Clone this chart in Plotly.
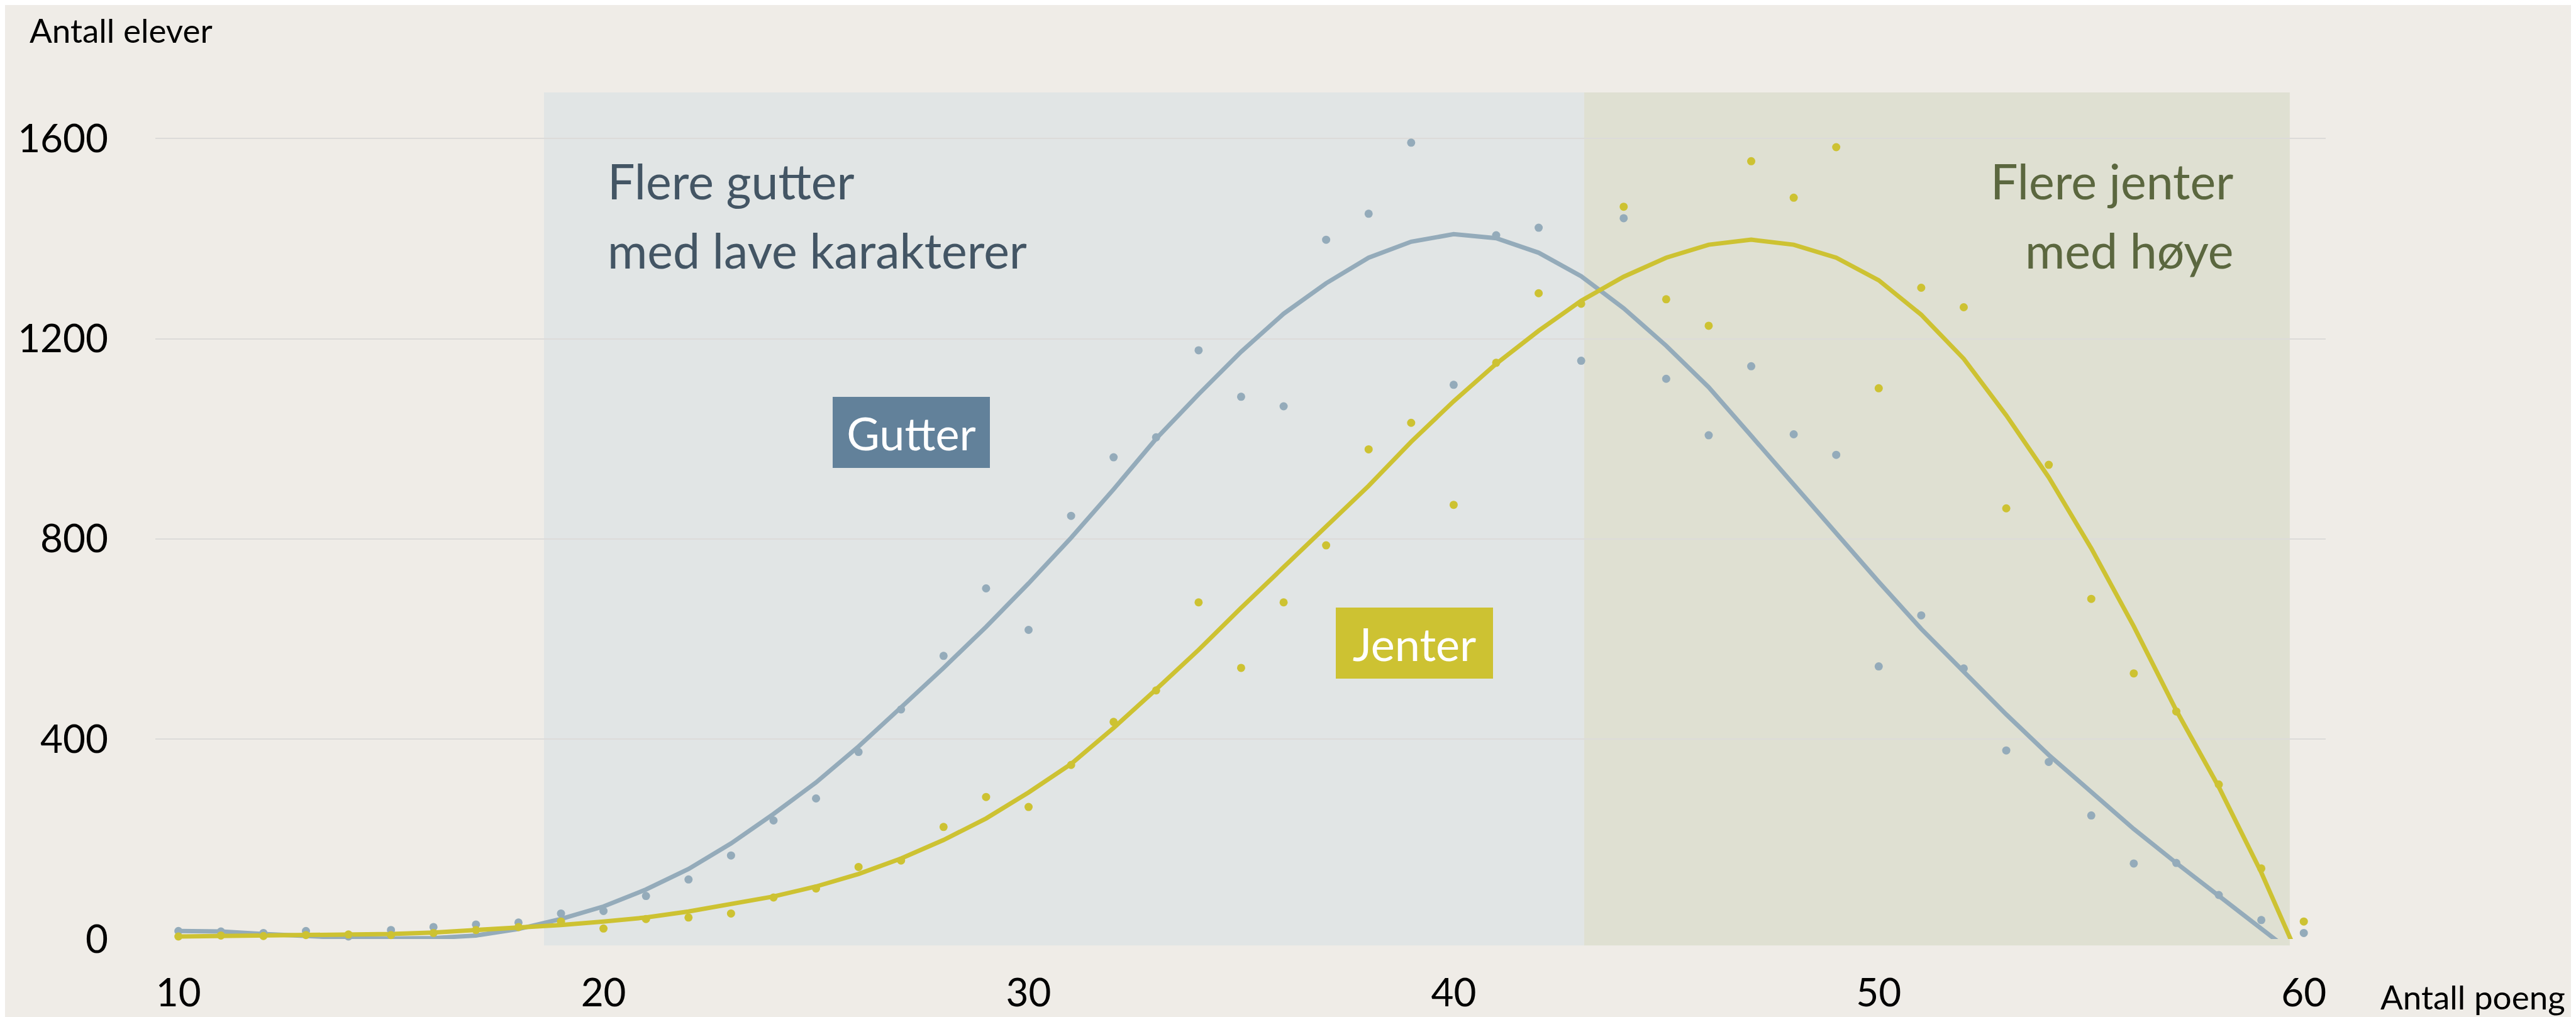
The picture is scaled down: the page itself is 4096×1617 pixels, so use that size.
import plotly.graph_objects as go

# ---------------- data ----------------
poeng = list(range(10, 61))

gutter_antall = [16, 15, 12, 16, 5, 18, 24, 29, 33, 51,
                 56, 86, 119, 167, 237, 281, 374, 459, 566, 701,
                 618, 846, 963, 1003, 1177, 1084, 1065, 1398, 1450, 1592,
                 1108, 1407, 1422, 1156, 1441, 1120, 1007, 1145, 1009, 968,
                 545, 647, 541, 377, 354, 247, 151, 152, 88, 38,
                 12]

jenter_antall = [5, 7, 6, 8, 9, 8, 12, 18, 24, 35,
                 21, 40, 43, 51, 83, 101, 144, 157, 224, 284,
                 264, 348, 434, 497, 673, 542, 673, 787, 979, 1032,
                 868, 1152, 1291, 1270, 1464, 1279, 1226, 1555, 1482, 1583,
                 1101, 1302, 1263, 861, 948, 680, 531, 455, 309, 141,
                 35]

gutter_trend = [16, 15, 10, 5, 2, 1, 2, 7, 20, 40,
                65, 99, 140, 191, 250, 313, 385, 463, 542, 624,
                711, 802, 899, 1000, 1089, 1174, 1250, 1311, 1362, 1394,
                1409, 1401, 1372, 1325, 1261, 1186, 1103, 1006, 908, 810,
                714, 620, 535, 449, 368, 293, 220, 152, 86, 20,
                -45]

jenter_trend = [5, 6, 6, 7, 8, 10, 13, 18, 22, 28,
                35, 43, 55, 70, 85, 105, 130, 161, 198, 241,
                293, 350, 422, 499, 578, 662, 743, 827, 906, 994,
                1075, 1150, 1216, 1276, 1324, 1362, 1388, 1398, 1388, 1362,
                1317, 1248, 1160, 1047, 923, 781, 625, 457, 304, 133,
                -60]

y_ticks = [0, 400, 800, 1200, 1600]
x_ticks = [10, 20, 30, 40, 50, 60]

omrade_gutter = (18.6, 43.07)
omrade_jenter = (43.07, 59.67)

# ---------------- style ----------------
W, H = 4096, 1617
L, R, T, B = 239.4, 3690.3, 138.7, 1485.2
XR = [9.457, 60.515]
YR = [0, 1692.4]

BG = "#EFECE7"
C_GUT = "#94ABBA"
C_JEN = "#CDC232"
FONT = "Lato, 'Open Sans', sans-serif"


def xpaper(px):
    return (px - L) / (R - L)


def ypaper(py):
    return (B - py) / (B - T)


fig = go.Figure()

fig.add_trace(go.Scatter(x=poeng, y=gutter_trend, mode="lines",
                         line=dict(color=C_GUT, width=7), hoverinfo="skip",
                         showlegend=False))
fig.add_trace(go.Scatter(x=poeng, y=jenter_trend, mode="lines",
                         line=dict(color=C_JEN, width=7), hoverinfo="skip",
                         showlegend=False))
fig.add_trace(go.Scatter(x=poeng, y=gutter_antall, mode="markers",
                         marker=dict(color=C_GUT, size=13), cliponaxis=False,
                         name="Gutter", showlegend=False))
fig.add_trace(go.Scatter(x=poeng, y=jenter_antall, mode="markers",
                         marker=dict(color=C_JEN, size=13), cliponaxis=False,
                         name="Jenter", showlegend=False))

# shaded regions
fig.add_shape(type="rect", xref="x", yref="paper",
              x0=omrade_gutter[0], x1=omrade_gutter[1], y0=-0.0077, y1=1,
              fillcolor="#E1E5E5", line=dict(width=0), layer="below")
fig.add_shape(type="rect", xref="x", yref="paper",
              x0=omrade_jenter[0], x1=omrade_jenter[1], y0=-0.0077, y1=1,
              fillcolor="#DFE0D2", line=dict(width=0), layer="below")

ann = []
# axis titles
ann.append(dict(text="Antall elever", xref="paper", yref="paper",
                x=xpaper(37), y=ypaper(39), xanchor="left", yanchor="middle",
                showarrow=False, font=dict(family=FONT, size=53, color="#000000")))
ann.append(dict(text="Antall poeng", xref="paper", yref="paper",
                x=xpaper(3775), y=ypaper(1577), xanchor="left", yanchor="middle",
                showarrow=False, font=dict(family=FONT, size=53, color="#000000")))

# region texts
C_TG = "#435564"
C_TJ = "#5B673F"
for txt, py in [("Flere gutter", 279), ("med lave karakterer", 389)]:
    ann.append(dict(text=txt, xref="paper", yref="paper",
                    x=xpaper(956), y=ypaper(py), xanchor="left", yanchor="middle",
                    showarrow=False, font=dict(family=FONT, size=77, color=C_TG)))
for txt, py in [("Flere jenter", 279), ("med høye", 389)]:
    ann.append(dict(text=txt, xref="paper", yref="paper",
                    x=xpaper(3545), y=ypaper(py), xanchor="right", yanchor="middle",
                    showarrow=False, font=dict(family=FONT, size=77, color=C_TJ)))

# label boxes
ann.append(dict(text="Gutter", xref="x", yref="y", x=27.24, y=1013,
                xanchor="center", yanchor="middle", showarrow=False,
                width=250, height=113, bgcolor="#62819A", borderpad=0,
                borderwidth=0, align="center",
                font=dict(family=FONT, size=72, color="#FFFFFF")))
ann.append(dict(text="Jenter", xref="x", yref="y", x=39.08, y=591,
                xanchor="center", yanchor="middle", showarrow=False,
                width=250, height=113, bgcolor=C_JEN, borderpad=0,
                borderwidth=0, align="center",
                font=dict(family=FONT, size=72, color="#FFFFFF")))

fig.update_layout(
    width=W, height=H,
    paper_bgcolor=BG, plot_bgcolor=BG,
    margin=dict(l=L, r=W - R, t=T, b=H - B, pad=0, autoexpand=False),
    annotations=ann,
    showlegend=False,
    font=dict(family=FONT, color="#000000"),
)
fig.update_xaxes(range=XR, tickvals=x_ticks, showgrid=False, zeroline=False,
                 showline=False, ticks="", ticklabelstandoff=44,
                 tickfont=dict(family=FONT, size=62, color="#000000"))
fig.update_yaxes(range=YR, tickvals=y_ticks, showgrid=True, gridcolor="#DCDBD9",
                 gridwidth=2, zeroline=False, showline=False, ticks="",
                 ticklabelstandoff=74,
                 tickfont=dict(family=FONT, size=62, color="#000000"))

fig.write_html("out.html")
